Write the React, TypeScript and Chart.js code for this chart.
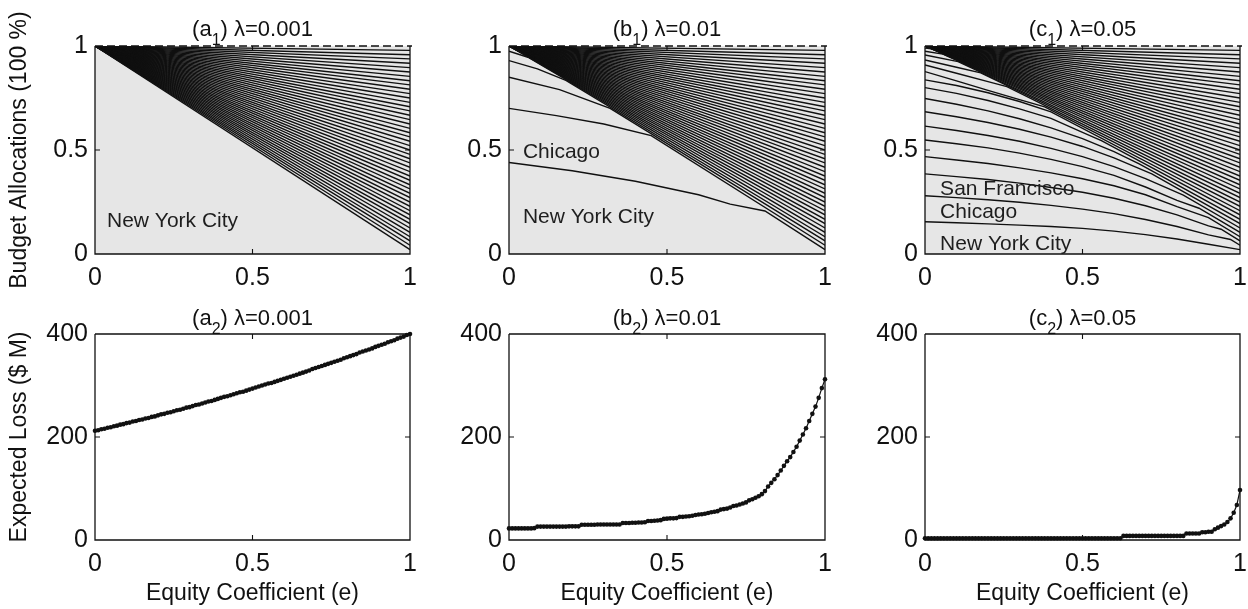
import React, { useEffect, useRef } from 'react';
import { Chart, registerables } from 'chart.js';

Chart.register(...registerables);

const FONT = '"Liberation Sans", Arial, Helvetica, sans-serif';
const INK = '#111111';

// ---------- data ----------
// equity coefficient samples of the loss curves
const E_GRID = [
  0, 0.01, 0.02, 0.03, 0.04, 0.05, 0.06, 0.07, 0.08, 0.09,
  0.1, 0.11, 0.12, 0.13, 0.14, 0.15, 0.16, 0.17, 0.18, 0.19,
  0.2, 0.21, 0.22, 0.23, 0.24, 0.25, 0.26, 0.27, 0.28, 0.29,
  0.3, 0.31, 0.32, 0.33, 0.34, 0.35, 0.36, 0.37, 0.38, 0.39,
  0.4, 0.41, 0.42, 0.43, 0.44, 0.45, 0.46, 0.47, 0.48, 0.49,
  0.5, 0.51, 0.52, 0.53, 0.54, 0.55, 0.56, 0.57, 0.58, 0.59,
  0.6, 0.61, 0.62, 0.63, 0.64, 0.65, 0.66, 0.67, 0.68, 0.69,
  0.7, 0.71, 0.72, 0.73, 0.74, 0.75, 0.76, 0.77, 0.78, 0.79,
  0.8, 0.81, 0.82, 0.83, 0.84, 0.85, 0.86, 0.87, 0.88, 0.89,
  0.9, 0.91, 0.92, 0.93, 0.94, 0.95, 0.96, 0.97, 0.98, 0.99, 1,
];

// expected loss ($ M), lambda = 0.001
const LOSS_A = [
  212, 213, 215, 216, 218, 219, 221, 222, 224, 225,
  227, 228, 230, 231, 233, 234, 236, 237, 239, 240,
  242, 244, 245, 247, 248, 250, 252, 253, 255, 257,
  258, 260, 262, 263, 265, 267, 269, 270, 272, 274,
  276, 278, 279, 281, 283, 285, 287, 288, 290, 292,
  294, 296, 298, 300, 302, 304, 305, 307, 309, 311,
  313, 315, 317, 319, 321, 323, 325, 327, 329, 332,
  334, 336, 338, 340, 342, 344, 346, 348, 350, 353,
  355, 357, 359, 361, 364, 366, 368, 370, 372, 375,
  377, 379, 381, 384, 386, 388, 391, 393, 395, 398, 400,
];

// expected loss ($ M), lambda = 0.01
const LOSS_B = [
  22.5, 22.5, 22.5, 22.5, 22.5, 22.5, 22.5, 22.5, 23, 26,
  26, 26, 26, 26, 26, 26, 26, 26, 26, 26.5,
  26.5, 26.5, 26.5, 29.5, 29.5, 29.5, 29.5, 29.5, 30, 30,
  30, 30, 30, 30, 30, 30, 33, 33, 33, 33.5,
  33.5, 34, 34, 34.5, 37, 37, 37.5, 38, 38.5, 41,
  41.5, 42, 42, 42.5, 45, 45, 45.5, 46, 47, 48.5,
  49.5, 50, 51, 52.5, 54, 55, 56, 59, 60, 61,
  63, 66, 67, 69, 71, 73, 77, 79, 82, 85,
  89, 95, 104, 111, 118, 126, 135, 144, 153, 161,
  171, 181, 193, 205, 217, 231, 245, 259, 276, 295, 312,
];

// expected loss ($ M), lambda = 0.05
const LOSS_C = [
  3.5, 3.5, 3.5, 3.5, 3.5, 3.5, 3.5, 3.5, 3.5, 3.5,
  3.5, 3.5, 3.5, 3.5, 3.5, 3.5, 3.5, 3.5, 3.5, 3.5,
  3.5, 3.5, 3.5, 3.5, 3.5, 3.5, 3.5, 3.5, 3.5, 3.5,
  3.5, 3.5, 3.5, 3.5, 3.5, 3.5, 3.5, 3.5, 3.5, 3.5,
  3.5, 3.5, 3.5, 3.5, 3.5, 3.5, 3.5, 3.5, 3.5, 3.5,
  3.5, 3.5, 3.5, 3.5, 3.5, 3.5, 3.5, 3.5, 3.5, 3.5,
  3.5, 3.5, 3.5, 8, 8, 8, 8, 8, 8, 8,
  8, 8, 8, 8, 8, 8, 8, 8, 8, 8,
  8, 8, 8, 12.5, 12.5, 12.5, 12.5, 12.5, 15, 15,
  16, 16, 21, 24, 27, 30, 35, 42, 53, 68, 97,
];

// cumulative budget share of each boundary at e = 1 (equal split)
const FAN_END = [
  0.021, 0.042, 0.063, 0.083, 0.104, 0.125, 0.146, 0.167, 0.188, 0.208,
  0.229, 0.25, 0.271, 0.292, 0.313, 0.333, 0.354, 0.375, 0.396, 0.417,
  0.438, 0.458, 0.479, 0.5, 0.521, 0.542, 0.563, 0.583, 0.604, 0.625,
  0.646, 0.667, 0.688, 0.708, 0.729, 0.75, 0.771, 0.792, 0.813, 0.833,
  0.854, 0.875, 0.896, 0.917, 0.938, 0.958, 0.979,
];

// boundaries that start below the equity fan: [e, cumulative share] until they join it
const LOW_A: number[][][] = [];

const LOW_B: number[][][] = [
  [[0, 0.44], [0.2, 0.4], [0.4, 0.35], [0.6, 0.285], [0.7, 0.24], [0.81, 0.207]],
  [[0, 0.7], [0.15, 0.665], [0.3, 0.625], [0.45, 0.569]],
  [[0, 0.85], [0.16, 0.79], [0.32, 0.7]],
  [[0, 0.93], [0.09, 0.89], [0.18, 0.835]],
  [[0, 0.975], [0.06, 0.946]],
];

const LOW_C: number[][][] = [
  [[0, 0.155], [0.1, 0.15], [0.2, 0.145], [0.3, 0.139], [0.4, 0.132], [0.5, 0.123], [0.6, 0.11], [0.7, 0.093], [0.8, 0.072], [0.9, 0.047], [1, 0.021]],
  [[0, 0.28], [0.1, 0.271], [0.2, 0.261], [0.3, 0.249], [0.4, 0.234], [0.5, 0.216], [0.6, 0.194], [0.7, 0.166], [0.8, 0.132], [0.9, 0.092], [0.97, 0.07]],
  [[0, 0.385], [0.1, 0.372], [0.2, 0.358], [0.3, 0.341], [0.4, 0.32], [0.5, 0.297], [0.6, 0.268], [0.7, 0.232], [0.8, 0.188], [0.9, 0.135], [0.94, 0.119]],
  [[0, 0.468], [0.1, 0.452], [0.2, 0.435], [0.3, 0.414], [0.4, 0.39], [0.5, 0.362], [0.6, 0.328], [0.7, 0.285], [0.8, 0.228], [0.9, 0.175]],
  [[0, 0.548], [0.1, 0.53], [0.2, 0.51], [0.3, 0.485], [0.4, 0.455], [0.5, 0.42], [0.6, 0.378], [0.7, 0.322], [0.8, 0.258], [0.87, 0.22]],
  [[0, 0.615], [0.1, 0.594], [0.2, 0.57], [0.3, 0.542], [0.4, 0.508], [0.5, 0.468], [0.6, 0.42], [0.7, 0.362], [0.82, 0.283]],
  [[0, 0.684], [0.1, 0.66], [0.2, 0.632], [0.3, 0.6], [0.4, 0.562], [0.5, 0.517], [0.6, 0.462], [0.72, 0.385]],
  [[0, 0.748], [0.1, 0.72], [0.2, 0.688], [0.3, 0.65], [0.4, 0.606], [0.5, 0.555], [0.6, 0.492], [0.68, 0.433]],
  [[0, 0.8], [0.1, 0.772], [0.2, 0.738], [0.3, 0.698], [0.4, 0.652], [0.5, 0.585], [0.56, 0.545]],
  [[0, 0.837], [0.1, 0.81], [0.2, 0.775], [0.3, 0.733], [0.4, 0.683]],
  [[0, 0.877], [0.1, 0.832], [0.2, 0.787], [0.3, 0.742], [0.38, 0.707]],
  [[0, 0.909], [0.1, 0.869], [0.2, 0.829], [0.26, 0.805]],
  [[0, 0.933], [0.1, 0.898], [0.177, 0.871]],
  [[0, 0.957], [0.105, 0.925]],
  [[0, 0.975], [0.057, 0.961]],
  [[0, 0.99], [0.021, 0.986]],
];

// labels inside the allocation panels: [text, e, share]
const LABELS_A: [string, number, number][] = [['New York City', 0.038, 0.13]];
const LABELS_B: [string, number, number][] = [
  ['Chicago', 0.044, 0.46],
  ['New York City', 0.044, 0.15],
];
const LABELS_C: [string, number, number][] = [
  ['San Francisco', 0.048, 0.284],
  ['Chicago', 0.048, 0.173],
  ['New York City', 0.048, 0.02],
];

const X_TICK_STEP = 0.5;
const ALLOC_TICK_STEP = 0.5;
const LOSS_TICK_STEP = 200;

// ---------- layout ----------
type PanelCfg = {
  key: string;
  left: number;
  top: number;
  w: number;
  h: number;
  padTop: number;
  padRight: number;
  xAxisH: number;
  kind: 'alloc' | 'loss';
  letter: string;
  sub: string;
  lambda: string;
  low?: number[][][];
  labels?: [string, number, number][];
  loss?: number[];
  yTitle?: string;
  xTitle?: string;
};

const TOP_ROW = { top: 0, h: 300, padTop: 46, xAxisH: 46 };
const BOT_ROW = { top: 274, h: 335, padTop: 60, xAxisH: 69 };
const COLS = [
  { left: 0, w: 440, padRight: 30 },
  { left: 414, w: 441, padRight: 30 },
  { left: 830, w: 440, padRight: 30 },
];

const PANELS: PanelCfg[] = [
  { key: 'a1', ...TOP_ROW, ...COLS[0], kind: 'alloc', letter: 'a', sub: '1', lambda: '0.001', low: LOW_A, labels: LABELS_A, yTitle: 'Budget Allocations (100 %)' },
  { key: 'b1', ...TOP_ROW, ...COLS[1], kind: 'alloc', letter: 'b', sub: '1', lambda: '0.01', low: LOW_B, labels: LABELS_B },
  { key: 'c1', ...TOP_ROW, ...COLS[2], kind: 'alloc', letter: 'c', sub: '1', lambda: '0.05', low: LOW_C, labels: LABELS_C },
  { key: 'a2', ...BOT_ROW, ...COLS[0], kind: 'loss', letter: 'a', sub: '2', lambda: '0.001', loss: LOSS_A, yTitle: 'Expected Loss ($ M)', xTitle: 'Equity Coefficient (e)' },
  { key: 'b2', ...BOT_ROW, ...COLS[1], kind: 'loss', letter: 'b', sub: '2', lambda: '0.01', loss: LOSS_B, xTitle: 'Equity Coefficient (e)' },
  { key: 'c2', ...BOT_ROW, ...COLS[2], kind: 'loss', letter: 'c', sub: '2', lambda: '0.05', loss: LOSS_C, xTitle: 'Equity Coefficient (e)' },
];

function buildDatasets(cfg: PanelCfg): any[] {
  if (cfg.kind === 'alloc') {
    const low = cfg.low || [];
    return FAN_END.map((end, i) => {
      const head = low[i] ? low[i] : [[0, 1]];
      const pts = head.concat([[1, end]]).map(([x, y]) => ({ x, y }));
      return {
        data: pts,
        borderColor: '#101010',
        borderWidth: 1.4,
        pointRadius: 0,
        fill: false,
        tension: 0,
      };
    });
  }
  const series = cfg.loss || [];
  return [
    {
      data: E_GRID.map((x, i) => ({ x, y: series[i] })),
      borderColor: INK,
      borderWidth: 1.2,
      pointRadius: 2.3,
      pointBackgroundColor: INK,
      pointBorderColor: INK,
      pointBorderWidth: 0,
      fill: false,
      tension: 0,
      clip: 8,
    },
  ];
}

function makePlugin(cfg: PanelCfg) {
  return {
    id: 'decor_' + cfg.key,
    beforeDatasetsDraw(chart: any) {
      if (cfg.kind !== 'alloc') return;
      const { ctx, chartArea: a } = chart;
      ctx.save();
      ctx.fillStyle = '#e6e6e6';
      ctx.fillRect(a.left, a.top, a.right - a.left, a.bottom - a.top);
      ctx.restore();
    },
    afterDatasetsDraw(chart: any) {
      const { ctx, chartArea: a, scales } = chart;
      ctx.save();
      ctx.strokeStyle = INK;
      ctx.lineWidth = 1.3;
      ctx.beginPath();
      ctx.moveTo(a.left, a.top);
      ctx.lineTo(a.left, a.bottom);
      ctx.lineTo(a.right, a.bottom);
      ctx.lineTo(a.right, a.top);
      if (cfg.kind === 'loss') ctx.lineTo(a.left, a.top);
      ctx.stroke();
      if (cfg.kind === 'alloc') {
        ctx.setLineDash([8, 4]);
        ctx.beginPath();
        ctx.moveTo(a.left, a.top);
        ctx.lineTo(a.right + 2, a.top);
        ctx.stroke();
        ctx.setLineDash([]);
      }
      // inner tick marks
      const tl = 5;
      ctx.lineWidth = 1.1;
      ctx.beginPath();
      const xs = scales.x;
      xs.ticks.forEach((t: any) => {
        if (t.value <= xs.min || t.value >= xs.max) return;
        const px = xs.getPixelForValue(t.value);
        ctx.moveTo(px, a.bottom);
        ctx.lineTo(px, a.bottom - tl);
        ctx.moveTo(px, a.top);
        ctx.lineTo(px, a.top + tl);
      });
      const ys = scales.y;
      ys.ticks.forEach((t: any) => {
        if (t.value <= ys.min || t.value >= ys.max) return;
        const py = ys.getPixelForValue(t.value);
        ctx.moveTo(a.left, py);
        ctx.lineTo(a.left + tl, py);
        ctx.moveTo(a.right, py);
        ctx.lineTo(a.right - tl, py);
      });
      ctx.stroke();
      ctx.restore();
    },
    afterDraw(chart: any) {
      const { ctx, chartArea: a, scales } = chart;
      ctx.save();
      // in-plot labels
      if (cfg.labels) {
        ctx.font = `21px ${FONT}`;
        ctx.fillStyle = '#1e1e1e';
        ctx.textAlign = 'left';
        ctx.textBaseline = 'alphabetic';
        cfg.labels.forEach(([txt, ex, vy]) => {
          ctx.fillText(txt, scales.x.getPixelForValue(ex), scales.y.getPixelForValue(vy));
        });
      }
      ctx.fillStyle = INK;
      // panel title with subscript
      const p1 = '(' + cfg.letter;
      const p2 = ') \u03bb=' + cfg.lambda;
      ctx.textAlign = 'left';
      ctx.textBaseline = 'alphabetic';
      ctx.font = `22px ${FONT}`;
      const w1 = ctx.measureText(p1).width;
      const w2 = ctx.measureText(p2).width;
      ctx.font = `16px ${FONT}`;
      const ws = ctx.measureText(cfg.sub).width;
      const cx = (a.left + a.right) / 2;
      const x0 = cx - (w1 + ws + w2) / 2;
      const by = a.top - (cfg.kind === 'alloc' ? 10 : 9.5);
      ctx.font = `22px ${FONT}`;
      ctx.fillText(p1, x0, by);
      ctx.fillText(p2, x0 + w1 + ws, by);
      ctx.font = `16px ${FONT}`;
      ctx.fillText(cfg.sub, x0 + w1, by + 9);
      // axis titles
      ctx.font = `23px ${FONT}`;
      ctx.textAlign = 'center';
      ctx.textBaseline = 'middle';
      if (cfg.xTitle) {
        ctx.fillText(cfg.xTitle, cx, a.bottom + 54);
      }
      if (cfg.yTitle) {
        ctx.save();
        ctx.translate(a.left - 75, (a.top + a.bottom) / 2);
        ctx.rotate(-Math.PI / 2);
        ctx.fillText(cfg.yTitle, 0, 0);
        ctx.restore();
      }
      ctx.restore();
    },
  };
}

const fmtTick = (v: any) => String(Math.round(Number(v) * 100) / 100);

function buildConfig(cfg: PanelCfg): any {
  const tickFont = { family: FONT, size: 25 };
  return {
    type: 'line',
    data: { datasets: buildDatasets(cfg) },
    options: {
      responsive: false,
      animation: false,
      devicePixelRatio: 1,
      events: [],
      layout: { padding: { top: cfg.padTop, right: cfg.padRight, left: 0, bottom: 0 } },
      plugins: {
        legend: { display: false },
        tooltip: { enabled: false },
        title: { display: false },
      },
      scales: {
        x: {
          type: 'linear',
          min: 0,
          max: 1,
          afterFit: (s: any) => {
            s.height = cfg.xAxisH;
          },
          ticks: {
            stepSize: X_TICK_STEP,
            font: tickFont,
            color: INK,
            padding: 9,
            maxRotation: 0,
            autoSkip: false,
            callback: fmtTick,
          },
          grid: { display: false, drawTicks: false },
          border: { display: false },
        },
        y: {
          type: 'linear',
          min: 0,
          max: cfg.kind === 'alloc' ? 1 : 400,
          afterFit: (s: any) => {
            s.width = 95;
          },
          ticks: {
            stepSize: cfg.kind === 'alloc' ? ALLOC_TICK_STEP : LOSS_TICK_STEP,
            font: tickFont,
            color: INK,
            padding: 7,
            autoSkip: false,
            callback: fmtTick,
          },
          grid: { display: false, drawTicks: false },
          border: { display: false },
        },
      },
    },
    plugins: [makePlugin(cfg)],
  };
}

function Panel({ cfg }: { cfg: PanelCfg }) {
  const ref = useRef<HTMLCanvasElement>(null);
  useEffect(() => {
    if (!ref.current) return;
    const chart = new Chart(ref.current, buildConfig(cfg));
    return () => chart.destroy();
  }, [cfg]);
  return (
    <canvas
      ref={ref}
      width={cfg.w}
      height={cfg.h}
      style={{ position: 'absolute', left: cfg.left, top: cfg.top, width: cfg.w, height: cfg.h }}
    />
  );
}

export default function App() {
  return (
    <div
      style={{
        position: 'fixed',
        left: 0,
        top: 0,
        width: 1248,
        height: 609,
        background: '#ffffff',
        overflow: 'hidden',
      }}
    >
      {PANELS.map((p) => (
        <Panel key={p.key} cfg={p} />
      ))}
    </div>
  );
}
